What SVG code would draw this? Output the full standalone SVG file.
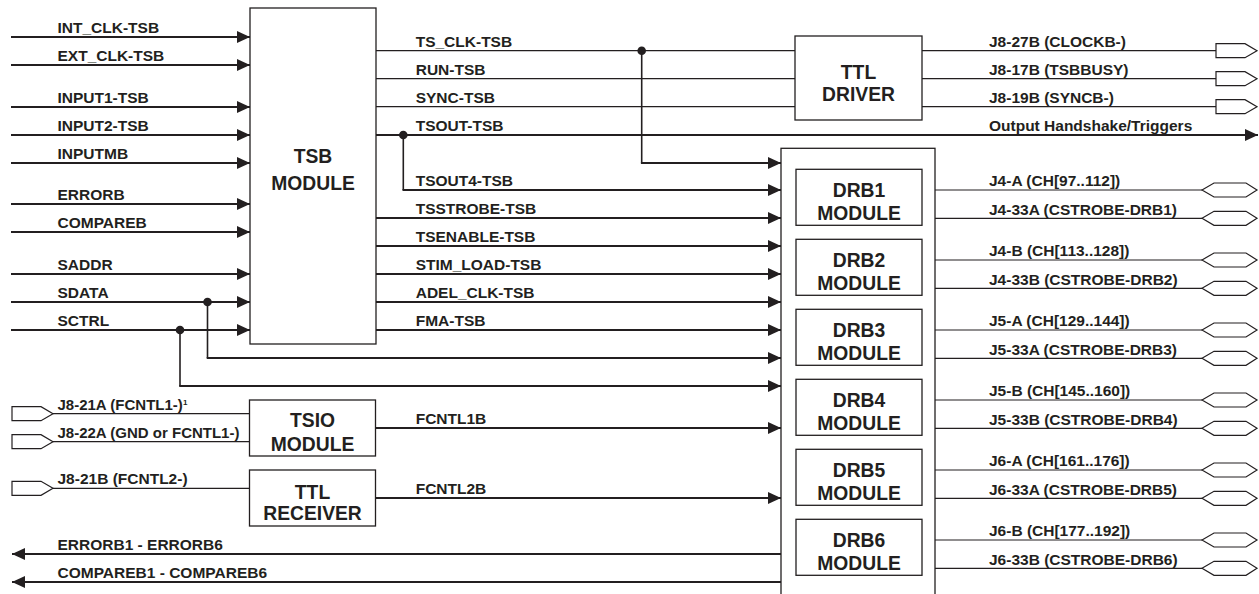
<svg xmlns="http://www.w3.org/2000/svg" width="1259" height="594" viewBox="0 0 1259 594">
<style>
.lbl{font-family:"Liberation Sans",Arial,Helvetica,sans-serif;font-weight:bold;font-size:15.5px;fill:#231f20}
.small{font-size:15px}
.big{font-size:19.3px;text-anchor:middle}
.sup{font-size:8px}
.box{fill:#fff;stroke:#231f20;stroke-width:1.3}
.thin{stroke:#231f20;stroke-width:1.2;fill:none}
.thick{stroke:#231f20;stroke-width:2.2;fill:none}
.vert{stroke:#231f20;stroke-width:1.6;fill:none}
.arr{marker-end:url(#ah)}
.port{fill:#fff;stroke:#231f20;stroke-width:1.2}
.dot{fill:#231f20}
</style>
<defs>
<marker id="ah" markerUnits="userSpaceOnUse" markerWidth="13" markerHeight="12" refX="13" refY="6" orient="auto">
<path d="M0,0 L13,6 L0,12 Z" fill="#231f20"/>
</marker>
<path id="pent" d="M0,-7 L29,-7 L41,0 L29,7 L0,7 Z"/>
<path id="hex" d="M0,0 L12,-7 L44,-7 L55,0 L44,7 L12,7 Z"/>
</defs>

<g id="connectors">
<line class="thick arr" x1="11" y1="37" x2="250" y2="37"/>
<line class="thick arr" x1="11" y1="65" x2="250" y2="65"/>
<line class="thick arr" x1="11" y1="107" x2="250" y2="107"/>
<line class="thick arr" x1="11" y1="135" x2="250" y2="135"/>
<line class="thick arr" x1="11" y1="163" x2="250" y2="163"/>
<line class="thick arr" x1="11" y1="204" x2="250" y2="204"/>
<line class="thick arr" x1="11" y1="232" x2="250" y2="232"/>
<line class="thick arr" x1="11" y1="274" x2="250" y2="274"/>
<line class="thick arr" x1="11" y1="302" x2="250" y2="302"/>
<line class="thick arr" x1="11" y1="330" x2="250" y2="330"/>
<polyline class="vert" points="207.5,302 207.5,358"/>
<line class="thick arr" x1="206.7" y1="358" x2="781" y2="358"/>
<polyline class="vert" points="180,330 180,386"/>
<line class="thick arr" x1="179.2" y1="386" x2="781" y2="386"/>
<circle class="dot" cx="207.5" cy="302" r="4.3"/>
<circle class="dot" cx="180" cy="330" r="4.3"/>
<line class="thin" x1="376" y1="50.7" x2="795" y2="50.7"/>
<line class="thin" x1="376" y1="78.7" x2="795" y2="78.7"/>
<line class="thin" x1="376" y1="106.7" x2="795" y2="106.7"/>
<polyline class="vert" points="641.7,50.7 641.7,163"/>
<line class="thick arr" x1="640.9" y1="163" x2="781" y2="163"/>
<circle class="dot" cx="641.7" cy="50.7" r="4.3"/>
<line class="thick arr" x1="376" y1="135" x2="1258" y2="135"/>
<polyline class="vert" points="403.3,135 403.3,190"/>
<line class="thick arr" x1="402.5" y1="190" x2="781" y2="190"/>
<circle class="dot" cx="403.3" cy="135" r="4.3"/>
<line class="thick arr" x1="376" y1="218" x2="781" y2="218"/>
<line class="thick arr" x1="376" y1="246" x2="781" y2="246"/>
<line class="thick arr" x1="376" y1="274" x2="781" y2="274"/>
<line class="thick arr" x1="376" y1="302" x2="781" y2="302"/>
<line class="thick arr" x1="376" y1="330" x2="781" y2="330"/>
<line class="thick arr" x1="376" y1="428" x2="781" y2="428"/>
<line class="thick arr" x1="376" y1="498" x2="781" y2="498"/>
<line class="thick arr" x1="781" y1="554" x2="12" y2="554"/>
<line class="thick arr" x1="781" y1="582" x2="12" y2="582"/>
<line class="thin" x1="53" y1="413.7" x2="249.5" y2="413.7"/>
<line class="thin" x1="53" y1="441.7" x2="249.5" y2="441.7"/>
<line class="thin" x1="53" y1="488.3" x2="249.5" y2="488.3"/>
<line class="thin" x1="922" y1="50.7" x2="1216" y2="50.7"/>
<line class="thin" x1="922" y1="78.7" x2="1216" y2="78.7"/>
<line class="thin" x1="922" y1="106.7" x2="1216" y2="106.7"/>
<line class="thin" x1="935" y1="190" x2="1202" y2="190"/>
<line class="thin" x1="935" y1="218.3" x2="1202" y2="218.3"/>
<line class="thin" x1="935" y1="260" x2="1202" y2="260"/>
<line class="thin" x1="935" y1="288.3" x2="1202" y2="288.3"/>
<line class="thin" x1="935" y1="330" x2="1202" y2="330"/>
<line class="thin" x1="935" y1="358.3" x2="1202" y2="358.3"/>
<line class="thin" x1="935" y1="400" x2="1202" y2="400"/>
<line class="thin" x1="935" y1="428.3" x2="1202" y2="428.3"/>
<line class="thin" x1="935" y1="470" x2="1202" y2="470"/>
<line class="thin" x1="935" y1="498.3" x2="1202" y2="498.3"/>
<line class="thin" x1="935" y1="540" x2="1202" y2="540"/>
<line class="thin" x1="935" y1="568.3" x2="1202" y2="568.3"/>
</g>

<g id="ports">
<use href="#pent" class="port" x="12" y="413.7"/>
<use href="#pent" class="port" x="12" y="441.7"/>
<use href="#pent" class="port" x="12" y="488.3"/>
<use href="#pent" class="port" x="1216" y="50.7"/>
<use href="#pent" class="port" x="1216" y="78.7"/>
<use href="#pent" class="port" x="1216" y="106.7"/>
<use href="#hex" class="port" x="1202" y="190"/>
<use href="#hex" class="port" x="1202" y="218.3"/>
<use href="#hex" class="port" x="1202" y="260"/>
<use href="#hex" class="port" x="1202" y="288.3"/>
<use href="#hex" class="port" x="1202" y="330"/>
<use href="#hex" class="port" x="1202" y="358.3"/>
<use href="#hex" class="port" x="1202" y="400"/>
<use href="#hex" class="port" x="1202" y="428.3"/>
<use href="#hex" class="port" x="1202" y="470"/>
<use href="#hex" class="port" x="1202" y="498.3"/>
<use href="#hex" class="port" x="1202" y="540"/>
<use href="#hex" class="port" x="1202" y="568.3"/>
</g>

<g id="tsb-module">
<rect class="box" x="250" y="8" width="126" height="336"/>
<text class="lbl big" x="313" y="162.5">TSB</text>
<text class="lbl big" x="313" y="190">MODULE</text>
</g>
<g id="ttl-driver">
<rect class="box" x="795" y="36" width="127" height="84"/>
<text class="lbl big" x="858.5" y="79">TTL</text>
<text class="lbl big" x="858.5" y="101">DRIVER</text>
</g>
<g id="drb-rack">
<rect class="box" x="781" y="148.3" width="154" height="460"/>
</g>
<g id="drb1"><rect class="box" x="796" y="169.3" width="126" height="56"/><text class="lbl big" x="859" y="197">DRB1</text><text class="lbl big" x="859" y="220">MODULE</text></g>
<g id="drb2"><rect class="box" x="796" y="239.3" width="126" height="56"/><text class="lbl big" x="859" y="267">DRB2</text><text class="lbl big" x="859" y="290">MODULE</text></g>
<g id="drb3"><rect class="box" x="796" y="309.3" width="126" height="56"/><text class="lbl big" x="859" y="337">DRB3</text><text class="lbl big" x="859" y="360">MODULE</text></g>
<g id="drb4"><rect class="box" x="796" y="379.3" width="126" height="56"/><text class="lbl big" x="859" y="407">DRB4</text><text class="lbl big" x="859" y="430">MODULE</text></g>
<g id="drb5"><rect class="box" x="796" y="449.3" width="126" height="56"/><text class="lbl big" x="859" y="477">DRB5</text><text class="lbl big" x="859" y="500">MODULE</text></g>
<g id="drb6"><rect class="box" x="796" y="519.3" width="126" height="56"/><text class="lbl big" x="859" y="547">DRB6</text><text class="lbl big" x="859" y="570">MODULE</text></g>
<g id="tsio-module">
<rect class="box" x="249.5" y="400" width="126" height="56"/>
<text class="lbl big" x="312.5" y="426.7">TSIO</text>
<text class="lbl big" x="312.5" y="450.7">MODULE</text>
</g>
<g id="ttl-receiver">
<rect class="box" x="249.5" y="470" width="126" height="56"/>
<text class="lbl big" x="312.5" y="499.3">TTL</text>
<text class="lbl big" x="312.5" y="520">RECEIVER</text>
</g>

<g id="labels">
<text class="lbl" x="57.5" y="32.5">INT_CLK-TSB</text>
<text class="lbl" x="57.5" y="60.5">EXT_CLK-TSB</text>
<text class="lbl" x="57.5" y="102.5">INPUT1-TSB</text>
<text class="lbl" x="57.5" y="130.5">INPUT2-TSB</text>
<text class="lbl" x="57.5" y="158.5">INPUTMB</text>
<text class="lbl" x="57.5" y="199.5">ERRORB</text>
<text class="lbl" x="57.5" y="227.5">COMPAREB</text>
<text class="lbl" x="57.5" y="269.5">SADDR</text>
<text class="lbl" x="57.5" y="297.5">SDATA</text>
<text class="lbl" x="57.5" y="325.5">SCTRL</text>
<text class="lbl small" x="57.5" y="409.5">J8-21A (FCNTL1-)</text>
<text class="lbl sup" x="183" y="405">1</text>
<text class="lbl small" x="57.5" y="437.5">J8-22A (GND or FCNTL1-)</text>
<text class="lbl" x="57.5" y="484">J8-21B (FCNTL2-)</text>
<text class="lbl" x="57.5" y="549.5">ERRORB1 - ERRORB6</text>
<text class="lbl" x="57.5" y="577.5">COMPAREB1 - COMPAREB6</text>
<text class="lbl" x="415.7" y="46.5">TS_CLK-TSB</text>
<text class="lbl" x="415.7" y="74.5">RUN-TSB</text>
<text class="lbl" x="415.7" y="102.5">SYNC-TSB</text>
<text class="lbl" x="415.7" y="130.5">TSOUT-TSB</text>
<text class="lbl" x="415.7" y="185.5">TSOUT4-TSB</text>
<text class="lbl" x="415.7" y="213.5">TSSTROBE-TSB</text>
<text class="lbl" x="415.7" y="241.5">TSENABLE-TSB</text>
<text class="lbl" x="415.7" y="269.5">STIM_LOAD-TSB</text>
<text class="lbl" x="415.7" y="297.5">ADEL_CLK-TSB</text>
<text class="lbl" x="415.7" y="325.5">FMA-TSB</text>
<text class="lbl" x="415.7" y="423.5">FCNTL1B</text>
<text class="lbl" x="415.7" y="493.5">FCNTL2B</text>
<text class="lbl" x="989" y="46.5">J8-27B (CLOCKB-)</text>
<text class="lbl" x="989" y="74.5">J8-17B (TSBBUSY)</text>
<text class="lbl" x="989" y="102.5">J8-19B (SYNCB-)</text>
<text class="lbl" x="989" y="130.5">Output Handshake/Triggers</text>
<text class="lbl" x="989" y="186">J4-A (CH[97..112])</text>
<text class="lbl" x="989" y="214.5">J4-33A (CSTROBE-DRB1)</text>
<text class="lbl" x="989" y="256">J4-B (CH[113..128])</text>
<text class="lbl" x="989" y="284.5">J4-33B (CSTROBE-DRB2)</text>
<text class="lbl" x="989" y="326">J5-A (CH[129..144])</text>
<text class="lbl" x="989" y="354.5">J5-33A (CSTROBE-DRB3)</text>
<text class="lbl" x="989" y="396">J5-B (CH[145..160])</text>
<text class="lbl" x="989" y="424.5">J5-33B (CSTROBE-DRB4)</text>
<text class="lbl" x="989" y="466">J6-A (CH[161..176])</text>
<text class="lbl" x="989" y="494.5">J6-33A (CSTROBE-DRB5)</text>
<text class="lbl" x="989" y="536">J6-B (CH[177..192])</text>
<text class="lbl" x="989" y="564.5">J6-33B (CSTROBE-DRB6)</text>
</g>
</svg>
